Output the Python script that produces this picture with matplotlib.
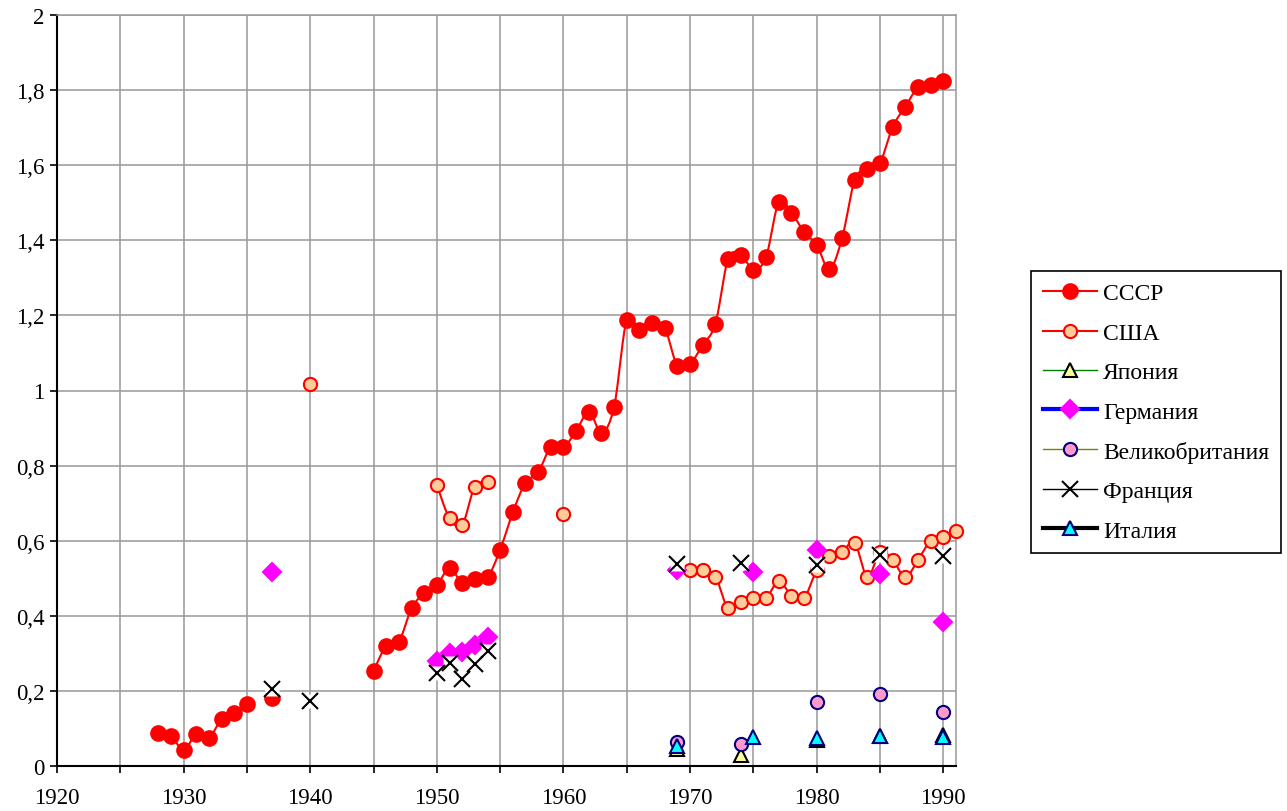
import numpy as np
import matplotlib
matplotlib.use("Agg")
import matplotlib.pyplot as plt
from matplotlib.lines import Line2D
from matplotlib.ticker import MultipleLocator, FuncFormatter


# Data
ussr_years = [1928, 1929, 1930, 1931, 1932, 1933, 1934, 1935, 1937,
              1945, 1946, 1947, 1948, 1949, 1950, 1951, 1952, 1953, 1954,
              1955, 1956, 1957, 1958, 1959, 1960, 1961, 1962, 1963, 1964,
              1965, 1966, 1967, 1968, 1969, 1970, 1971, 1972, 1973, 1974,
              1975, 1976, 1977, 1978, 1979, 1980, 1981, 1982, 1983, 1984,
              1985, 1986, 1987, 1988, 1989, 1990]
ussr_values = [0.087, 0.081, 0.042, 0.086, 0.075, 0.125, 0.142, 0.165, 0.181,
               0.253, 0.320, 0.331, 0.420, 0.460, 0.482, 0.526, 0.488, 0.498, 0.503,
               0.576, 0.676, 0.754, 0.782, 0.850, 0.849, 0.892, 0.944, 0.888, 0.957,
               1.189, 1.161, 1.179, 1.166, 1.065, 1.071, 1.122, 1.178, 1.350, 1.361,
               1.322, 1.356, 1.501, 1.474, 1.422, 1.388, 1.323, 1.405, 1.561, 1.590,
               1.607, 1.702, 1.756, 1.807, 1.814, 1.824]

usa_years = [1940, 1950, 1951, 1952, 1953, 1954, 1960,
             1970, 1971, 1972, 1973, 1974, 1975, 1976, 1977, 1978, 1979, 1980,
             1981, 1982, 1983, 1984, 1985, 1986, 1987, 1988, 1989, 1990, 1991]
usa_values = [1.017, 0.749, 0.660, 0.643, 0.744, 0.755, 0.671,
              0.522, 0.522, 0.504, 0.420, 0.436, 0.447, 0.447, 0.493, 0.454, 0.447, 0.522,
              0.558, 0.571, 0.594, 0.503, 0.570, 0.549, 0.503, 0.549, 0.600, 0.611, 0.626]

japan_years = [1969, 1974, 1980, 1985, 1990]
japan_values = [0.045, 0.030, 0.068, 0.080, 0.082]

germany_years = [1937, 1950, 1951, 1952, 1953, 1954, 1969, 1975, 1980, 1985, 1990]
germany_values = [0.517, 0.280, 0.300, 0.303, 0.323, 0.343, 0.522, 0.517, 0.576, 0.511, 0.384]

uk_years = [1969, 1974, 1980, 1985, 1990]
uk_values = [0.065, 0.059, 0.170, 0.193, 0.143]

france_years = [1937, 1940, 1950, 1951, 1952, 1953, 1954, 1969, 1974, 1980, 1985, 1990]
france_values = [0.205, 0.172, 0.248, 0.273, 0.232, 0.272, 0.305, 0.538, 0.540, 0.536, 0.562, 0.560]

italy_years = [1969, 1975, 1980, 1985, 1990]
italy_values = [0.052, 0.077, 0.074, 0.081, 0.076]

labels = ["СССР", "США", "Япония", "Германия", "Великобритания", "Франция", "Италия"]

plt.rcParams['font.family'] = ['Liberation Serif', 'DejaVu Serif']


def runs(years, values):
    # split into runs of consecutive years
    out = []
    cur_x, cur_y = [years[0]], [values[0]]
    for x, y in zip(years[1:], values[1:]):
        if x - cur_x[-1] == 1:
            cur_x.append(x)
            cur_y.append(y)
        else:
            out.append((cur_x, cur_y))
            cur_x, cur_y = [x], [y]
    out.append((cur_x, cur_y))
    return out


def smooth(xs, ys, n=16):
    # Catmull-Rom style curve through the points (like Excel smoothed lines)
    xs = np.asarray(xs, float)
    ys = np.asarray(ys, float)
    if len(xs) < 3:
        return xs, ys
    px = np.concatenate([[xs[0]], xs, [xs[-1]]])
    py = np.concatenate([[ys[0]], ys, [ys[-1]]])
    t = np.linspace(0, 1, n)
    rx, ry = [], []
    for i in range(1, len(px) - 2):
        p0, p1, p2, p3 = px[i - 1], px[i], px[i + 1], px[i + 2]
        q0, q1, q2, q3 = py[i - 1], py[i], py[i + 1], py[i + 2]
        c1x, c1y = p1 + (p2 - p0) / 6, q1 + (q2 - q0) / 6
        c2x, c2y = p2 - (p3 - p1) / 6, q2 - (q3 - q1) / 6
        bx = (1-t)**3*p1 + 3*(1-t)**2*t*c1x + 3*(1-t)*t**2*c2x + t**3*p2
        by = (1-t)**3*q1 + 3*(1-t)**2*t*c1y + 3*(1-t)*t**2*c2y + t**3*q2
        rx.extend(bx)
        ry.extend(by)
    return np.array(rx), np.array(ry)


fig = plt.figure(figsize=(12.87, 8.12), dpi=100)
ax = fig.add_axes([57 / 1287, 45 / 812, (956 - 57) / 1287, (767 - 16) / 812])

series = [
    # years, values, line color, line width, marker, size, face, edge
    (ussr_years, ussr_values, "#FF0000", 1.5, "o", 10.5, "#FF0000", "#FF0000"),
    (usa_years, usa_values, "#FF0000", 1.5, "o", 9.5, "#FFCC99", "#FF0000"),
    (japan_years, japan_values, "#008000", 1.0, "^", 10, "#FFFF99", "#000000"),
    (germany_years, germany_values, "#0000FF", 3.0, "D", 9, "#FF00FF", "#FF00FF"),
    (uk_years, uk_values, "#808000", 1.0, "o", 9.5, "#FF99CC", "#000080"),
    (france_years, france_values, "#000000", 1.0, "x", 11, "none", "#000000"),
    (italy_years, italy_values, "#000000", 3.0, "^", 10, "#00FFFF", "#000080"),
]

handles = []
z = 3
for (yrs, vals, lc, lw, mk, ms, fc, ec), lab in zip(series, labels):
    for rx, ry in runs(yrs, vals):
        if len(rx) > 1:
            sx, sy = smooth(rx, ry)
            ax.plot(sx, sy, color=lc, lw=lw, zorder=z, solid_capstyle='round')
    if mk == "x":
        # X markers in the original sit on a white box
        ax.plot(yrs, vals, ls="none", marker="s", ms=10, mfc="white", mec="none",
                zorder=z + 0.5, clip_on=False)
        ax.plot(yrs, vals, ls="none", marker="x", ms=ms, mew=1.5, color=ec,
                zorder=z + 0.6, clip_on=False)
    else:
        ax.plot(yrs, vals, ls="none", marker=mk, ms=ms, mfc=fc, mec=ec, mew=1.5,
                zorder=z + 0.5, clip_on=False)
    handles.append(Line2D([], [], color=lc, lw=lw, marker=mk, ms=ms,
                          mfc=fc, mec=ec, mew=1.5))
    z += 1

ax.set_xlim(1920, 1991)
ax.set_ylim(0, 2)
ax.xaxis.set_major_locator(MultipleLocator(10))
ax.xaxis.set_minor_locator(MultipleLocator(5))
ax.yaxis.set_major_locator(MultipleLocator(0.2))
ax.xaxis.set_major_formatter(FuncFormatter(lambda v, p: f"{int(round(v))}"))
ax.yaxis.set_major_formatter(
    FuncFormatter(lambda v, p: f"{round(v, 1):g}".replace(".", ",")))

ax.grid(True, which="both", color="#999999", lw=1.1, zorder=1)
ax.set_axisbelow(True)
ax.tick_params(axis="both", which="both", direction="out", color="black",
               labelsize=16.5, width=1.2)
ax.tick_params(axis="x", which="both", length=5, pad=10)
ax.tick_params(axis="y", length=5, pad=4)

for side in ("top", "right"):
    ax.spines[side].set_color("#999999")
    ax.spines[side].set_linewidth(1.1)
for side in ("left", "bottom"):
    ax.spines[side].set_color("black")
    ax.spines[side].set_linewidth(1.5)

leg = fig.legend(handles, labels, loc="upper left",
                 bbox_to_anchor=(1031 / 1287, 1 - 272 / 812),
                 bbox_transform=fig.transFigure, borderaxespad=0,
                 fontsize=17, handlelength=2.3, labelspacing=0.76,
                 fancybox=False, edgecolor="black", framealpha=1,
                 borderpad=0.5, handletextpad=0.25)
leg.get_frame().set_linewidth(1.2)

fig.savefig("out.png", dpi=100)
